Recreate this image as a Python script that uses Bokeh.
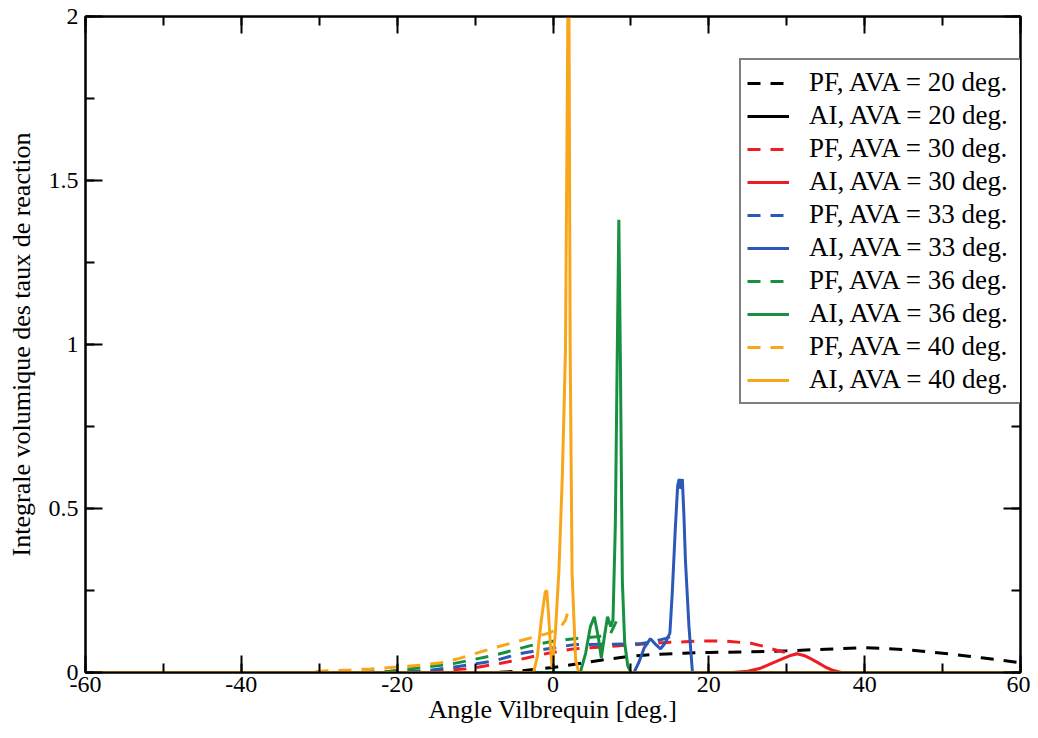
from bokeh.plotting import figure
from bokeh.models import (LinearAxis, SingleIntervalTicker, NumeralTickFormatter,
                          Legend, LegendItem, Range1d, CustomLabelingPolicy)
from bokeh.embed import file_html
from bokeh.resources import INLINE

# ---------------- data ----------------
pf20_x = [-60, -8, -5, 0, 3, 5.7, 8.7, 11.2, 13.8, 16.8, 20, 25, 30, 35, 40, 45, 50, 55, 60]
pf20_y = [0, 0, 0.003, 0.015, 0.026, 0.036, 0.046, 0.052, 0.056, 0.059, 0.061, 0.063, 0.066,
          0.071, 0.076, 0.070, 0.059, 0.045, 0.030]

ai20_x = [-60, 60]
ai20_y = [0, 0]

pf30_x = [-60, -20, -15, -10.6, -6.7, -4.2, -0.8, 2.6, 7, 11.2, 15, 19.3, 22, 25.4, 27, 28.8, 30, 31.3]
pf30_y = [0, 0, 0.004, 0.012, 0.028, 0.040, 0.058, 0.072, 0.079, 0.086, 0.092, 0.096, 0.096,
          0.089, 0.080, 0.067, 0.060, 0.056]

ai30_x = [-60, 23, 25, 26.5, 28, 29.5, 30.5, 31.3, 32.2, 33, 34, 35, 36, 37, 60]
ai30_y = [0, 0, 0.004, 0.012, 0.027, 0.042, 0.052, 0.057, 0.052, 0.043, 0.030, 0.016, 0.006, 0, 0]

pf33_x = [-60, -20, -16, -12.8, -7.6, -4.2, -2, 0, 2.7, 7.4, 11.2, 13, 14.5, 15.5, 16]
pf33_y = [0, 0, 0.006, 0.016, 0.035, 0.058, 0.067, 0.075, 0.085, 0.086, 0.088, 0.095, 0.104,
          0.115, 0.120]

ai33_x = [-60, 10.4, 11.0, 11.7, 12.5, 13.2, 13.8, 14.4, 15.0, 15.3, 15.7, 16.0, 16.2, 16.4,
          16.6, 16.8, 17.0, 17.45, 17.9, 60]
ai33_y = [0, 0, 0.03, 0.075, 0.103, 0.085, 0.072, 0.09, 0.12, 0.24, 0.44, 0.57, 0.59, 0.56,
          0.59, 0.48, 0.34, 0.14, 0, 0]

pf36_x = [-60, -25, -21, -17.9, -12.8, -7.6, -2.9, 0, 3, 6, 7.4, 8.4]
pf36_y = [0, 0, 0.004, 0.012, 0.027, 0.052, 0.082, 0.095, 0.104, 0.11, 0.12, 0.17]

ai36_x = [-60, 3.5, 4.2, 4.8, 5.3, 5.8, 6.2, 6.6, 7.0, 7.4, 7.7, 8.0, 8.25, 8.45, 8.65, 8.9,
          9.2, 9.6, 10.0, 60]
ai36_y = [0, 0, 0.06, 0.14, 0.17, 0.11, 0.045, 0.11, 0.17, 0.14, 0.16, 0.45, 0.98, 1.38, 0.95,
          0.28, 0.09, 0.02, 0, 0]

pf40_x = [-60, -32, -29, -26, -23.4, -20.5, -17, -14.4, -12, -9.7, -7.3, -5, -2.5, -0.5, 1.0,
          1.6, 2.1]
pf40_y = [0, 0, 0.005, 0.008, 0.011, 0.016, 0.022, 0.030, 0.043, 0.060, 0.077, 0.092, 0.108,
          0.120, 0.140, 0.160, 0.200]

ai40_x = [-60, -2.5, -2.0, -1.5, -1.0, -0.8, -0.55, -0.3, -0.1, 0.3, 0.76, 1.2, 1.6, 1.85, 2.0,
          2.2, 2.45, 2.9, 3.3, 60]
ai40_y = [0, 0, 0.05, 0.16, 0.245, 0.25, 0.17, 0.07, 0.015, 0.12, 0.31, 0.6, 0.98, 1.8, 2.4,
          1.0, 0.3, 0.04, 0, 0]

series_labels = ["PF, AVA = 20 deg.", "AI, AVA = 20 deg.",
                 "PF, AVA = 30 deg.", "AI, AVA = 30 deg.",
                 "PF, AVA = 33 deg.", "AI, AVA = 33 deg.",
                 "PF, AVA = 36 deg.", "AI, AVA = 36 deg.",
                 "PF, AVA = 40 deg.", "AI, AVA = 40 deg."]
series_colors = ["black", "black", "#ee1d23", "#ee1d23", "#2b59b8", "#2b59b8",
                 "#17913f", "#17913f", "#faa61a", "#faa61a"]
series_dashed = [True, False] * 5
series_xs = [pf20_x, ai20_x, pf30_x, ai30_x, pf33_x, ai33_x, pf36_x, ai36_x, pf40_x, ai40_x]
series_ys = [pf20_y, ai20_y, pf30_y, ai30_y, pf33_y, ai33_y, pf36_y, ai36_y, pf40_y, ai40_y]

FONT = "Liberation Serif"

p = figure(width=1030, height=736, x_range=Range1d(-60, 60), y_range=Range1d(0, 2),
           output_backend="svg", toolbar_location=None,
           min_border_left=85, min_border_right=10, min_border_top=16, min_border_bottom=64)
p.xgrid.visible = False
p.ygrid.visible = False
p.outline_line_color = "black"
p.outline_line_width = 2
p.background_fill_color = "white"

xt = SingleIntervalTicker(interval=20, num_minor_ticks=2)
yt = SingleIntervalTicker(interval=0.5, num_minor_ticks=2)

no_labels = CustomLabelingPolicy(code="return []")


def style(ax, show_labels):
    ax.axis_line_color = "black"
    ax.axis_line_width = 2
    ax.major_tick_in = 17
    ax.major_tick_out = 0
    ax.minor_tick_in = 9
    ax.minor_tick_out = 0
    ax.major_tick_line_width = 2
    ax.minor_tick_line_width = 2
    ax.major_tick_line_color = "black"
    ax.minor_tick_line_color = "black"
    ax.major_label_text_font = FONT
    ax.major_label_text_color = "black"
    if show_labels:
        ax.major_label_text_font_size = "24px"
    else:
        ax.major_label_policy = no_labels
        ax.major_label_text_font_size = "1px"
        ax.major_label_standoff = 0


p.xaxis.ticker = xt
p.yaxis.ticker = yt
p.xaxis.formatter = NumeralTickFormatter(format="0")
p.yaxis.formatter = NumeralTickFormatter(format="0.[0]")
style(p.xaxis[0], True)
style(p.yaxis[0], True)
p.xaxis.major_label_standoff = 4
p.yaxis.major_label_standoff = 7
p.xaxis.axis_label = "Angle Vilbrequin [deg.]"
p.yaxis.axis_label = "Integrale volumique des taux de reaction"
for ax in (p.xaxis[0], p.yaxis[0]):
    ax.axis_label_text_font = FONT
    ax.axis_label_text_font_size = "26px"
    ax.axis_label_text_font_style = "normal"
    ax.axis_label_text_color = "black"
p.xaxis.axis_label_standoff = 0
p.yaxis.axis_label_standoff = 10

top = LinearAxis(ticker=xt)
style(top, False)
p.add_layout(top, "above")
right = LinearAxis(ticker=yt)
style(right, False)
p.add_layout(right, "right")

items = []
for lab, col, dashed, xs, ys in zip(series_labels, series_colors, series_dashed,
                                     series_xs, series_ys):
    r = p.line(xs, ys, line_color=col, line_width=3,
               line_dash="13 10" if dashed else "solid")
    items.append(LegendItem(label=lab, renderers=[r]))

legend = Legend(items=items, location=(654, 268), margin=0, padding=6, spacing=0,
                label_height=33, glyph_height=20, glyph_width=42, label_standoff=20,
                label_width=206,
                label_text_font=FONT, label_text_font_size="27px", label_text_color="black",
                border_line_color="black", border_line_width=2,
                background_fill_color="white", background_fill_alpha=1.0)
p.add_layout(legend)

open("out.html", "w").write(file_html(p, INLINE))
